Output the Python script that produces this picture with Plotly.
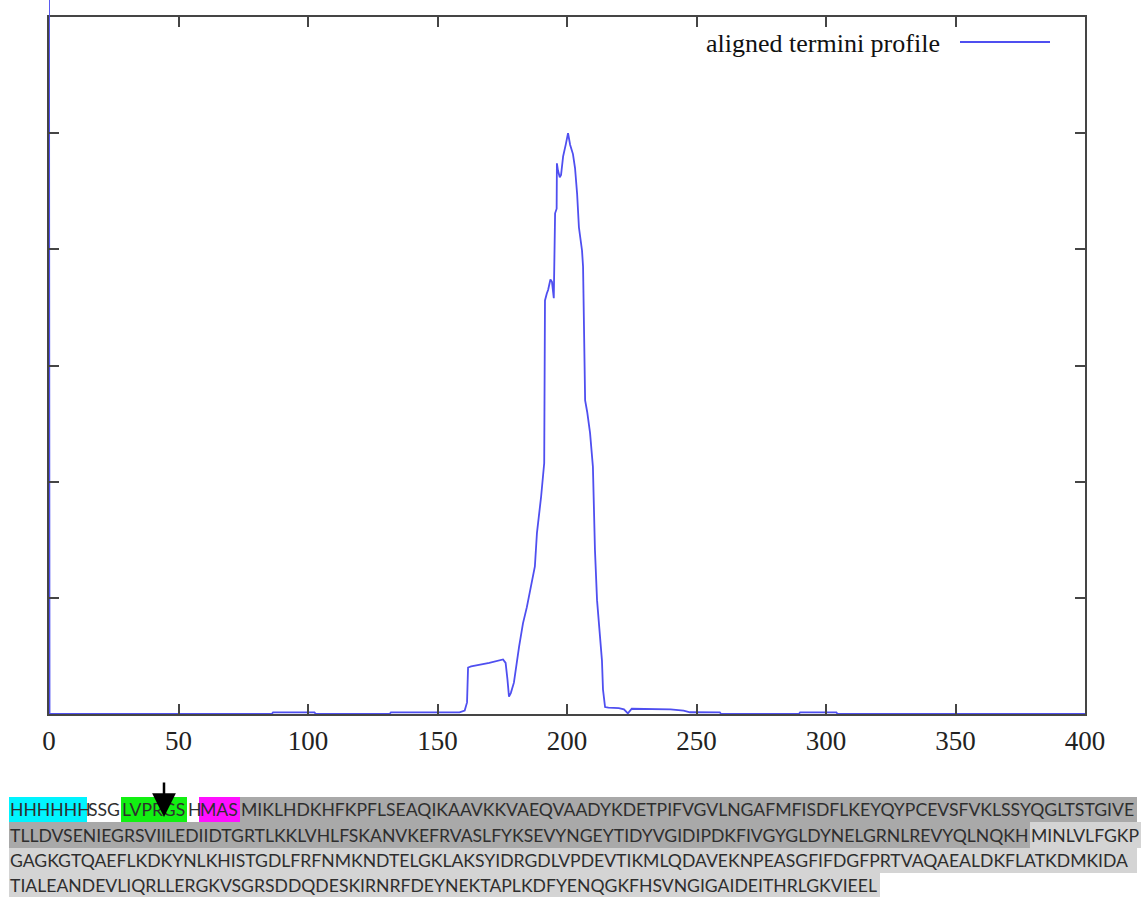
import plotly.graph_objects as go

# ---- profile data (position along construct, profile value) ----
profile_x = [0, 0.2, 86, 86.5, 102.5, 103, 131.5, 132, 158.5, 160.5, 161.4, 161.8,
             163, 170, 175.3, 176.3, 177.0, 177.6, 178.3, 179.5, 181.5, 183, 184.5,
             186, 187.6, 188.4, 189.2, 190.0, 191.2, 191.5, 192.2, 192.7, 193.6,
             194.2, 194.9, 195.4, 196.0, 196.1, 196.5, 197.2, 197.7, 198.5, 199.6,
             200.4, 201.2, 202.3, 203.1, 203.9, 204.6, 205.8, 206.2, 206.6, 207.0,
             207.8, 208.9, 210.0, 210.8, 211.6, 212.5, 213.5, 213.9, 214.7, 216,
             220, 222, 223.5, 225, 235, 240, 245, 247.5, 259, 259.5, 289.5, 290,
             304, 304.5, 400]
profile_y = [6.5, 0, 0, 0.014, 0.014, 0, 0, 0.014, 0.014, 0.03, 0.10, 0.40,
             0.41, 0.44, 0.47, 0.44, 0.30, 0.15, 0.18, 0.27, 0.58, 0.78, 0.92,
             1.10, 1.27, 1.56, 1.70, 1.87, 2.16, 3.56, 3.62, 3.65, 3.74,
             3.72, 3.58, 4.31, 4.35, 4.74, 4.68, 4.62, 4.64, 4.80, 4.91,
             5.00, 4.90, 4.82, 4.70, 4.48, 4.19, 3.99, 3.85, 3.22, 2.70,
             2.60, 2.42, 2.13, 1.41, 0.98, 0.70, 0.46, 0.21, 0.06, 0.055,
             0.05, 0.04, 0.005, 0.045, 0.045, 0.04, 0.03, 0.015, 0.014, 0, 0, 0.014,
             0.014, 0, 0]
series_name = "aligned termini profile"

x_ticks = [0, 50, 100, 150, 200, 250, 300, 350, 400]
y_ticks = [0, 1, 2, 3, 4, 5, 6]

# ---- construct sequence, split into annotated regions ----
seq_rows = [
    ["HHHHHH", "SSG", "LVPRGS", "H", "MAS",
     "MIKLHDKHFKPFLSEAQIKAAVKKVAEQVAADYKDETPIFVGVLNGAFMFISDFLKEYQYPCEVSFVKLSSYQGLTSTGIVE"],
    ["TLLDVSENIEGRSVIILEDIIDTGRTLKKLVHLFSKANVKEFRVASLFYKSEVYNGEYTIDYVGIDIPDKFIVGYGLDYNELGRNLREVYQLNQKH",
     "MINLVLFGKP"],
    ["GAGKGTQAEFLKDKYNLKHISTGDLFRFNMKNDTELGKLAKSYIDRGDLVPDEVTIKMLQDAVEKNPEASGFIFDGFPRTVAQAEALDKFLATKDMKIDA"],
    ["TIALEANDEVLIQRLLERGKVSGRSDDQDESKIRNRFDEYNEKTAPLKDFYENQGKFHSVNGIGAIDEITHRLGKVIEEL"],
]
seq_roles = [
    ["his", "linker", "thrombin", "linker", "tag", "domain1"],
    ["domain1", "domain2"],
    ["domain2"],
    ["domain2"],
]

# ---- layout geometry (pixels) ----
W, H = 1144, 897
FL, FR, FT, FB = 49, 1085, 17, 714      # plot frame
UNIT_PX = (FB - FT) / 6.0                 # pixels per y unit
role_fill = {"his": "#00f4ff", "linker": "rgba(0,0,0,0)", "thrombin": "#12f012",
             "tag": "#ff10ff", "domain1": "#a9a9a9", "domain2": "#d4d4d4"}
row_edges = [[9, 87, 121, 187, 199, 240, 1137],
             [9, 1030, 1141],
             [9, 1137],
             [9, 880]]
row_tops = [797, 822, 848, 873, 897]


def px(x):
    return (x - FL) / (FR - FL)


def py(y):
    return (FB - y) / FB


fig = go.Figure()
line_style = dict(color="#4f4ff0", width=1.8)
fig.add_trace(go.Scatter(x=profile_x, y=profile_y, mode="lines", line=line_style,
                         name=series_name, showlegend=False, hoverinfo="skip"))
# same profile on a thin strip above the frame, where the first point runs off scale
fig.add_trace(go.Scatter(x=profile_x, y=profile_y, mode="lines", line=line_style,
                         xaxis="x2", yaxis="y2", showlegend=False, hoverinfo="skip"))

axis_common = dict(showline=True, linecolor="#454545", linewidth=2, mirror="ticks",
                   ticks="inside", ticklen=10, tickwidth=2, tickcolor="#454545",
                   showgrid=False, zeroline=False)
top_frac = py(FT)
fig.update_layout(
    width=W, height=H, autosize=False,
    margin=dict(l=FL, r=W - FR, t=0, b=H - FB, pad=0),
    paper_bgcolor="white", plot_bgcolor="white",
    xaxis=dict(range=[0, 400], tickvals=x_ticks, domain=[0, 1],
               tickfont=dict(family="Liberation Serif, Times New Roman, serif",
                             size=27, color="#222"),
               ticklabelstandoff=2, **axis_common),
    yaxis=dict(range=[0, 6], tickvals=y_ticks, showticklabels=False,
               domain=[0, top_frac], **axis_common),
    xaxis2=dict(range=[0, 400], anchor="y2", visible=False, domain=[0, 1]),
    yaxis2=dict(range=[6, 6 + FT / UNIT_PX], anchor="x2", visible=False,
                domain=[top_frac, 1]),
    showlegend=False,
)

# key for the profile line, drawn inside the frame at upper right
fig.add_annotation(x=px(942), y=py(43), xref="paper", yref="paper", text=series_name,
                   showarrow=False, xanchor="right", yanchor="middle",
                   font=dict(family="Liberation Serif, Times New Roman, serif",
                             size=26, color="#111"))
fig.add_shape(type="line", xref="paper", yref="paper", x0=px(960), x1=px(1050),
              y0=py(42), y1=py(42), line=line_style)

# sequence block with highlighted regions
for r, (segs, roles, edges) in enumerate(zip(seq_rows, seq_roles, row_edges)):
    y0, y1 = row_tops[r], row_tops[r + 1]
    for i, (txt, role) in enumerate(zip(segs, roles)):
        x0, x1 = edges[i], edges[i + 1]
        if role != "linker":
            fig.add_shape(type="rect", xref="paper", yref="paper", layer="below",
                          x0=px(x0), x1=px(x1), y0=py(y1), y1=py(y0),
                          fillcolor=role_fill[role], line=dict(width=0))
        fig.add_annotation(x=px(x0 - 1), y=py((y0 + y1) / 2), xref="paper", yref="paper",
                           text=txt, showarrow=False, xanchor="left", yanchor="middle",
                           font=dict(family="Lato, Open Sans, sans-serif", size=17.6,
                                     color="#2e2e2e"))

# cleavage site marker between R and G
fig.add_annotation(x=px(164), y=py(817), xref="paper", yref="paper", text="",
                   showarrow=True, arrowhead=2, arrowsize=1.9, arrowwidth=2.5,
                   arrowcolor="#000", ax=0, ay=-36)

fig.write_html("out.html")
